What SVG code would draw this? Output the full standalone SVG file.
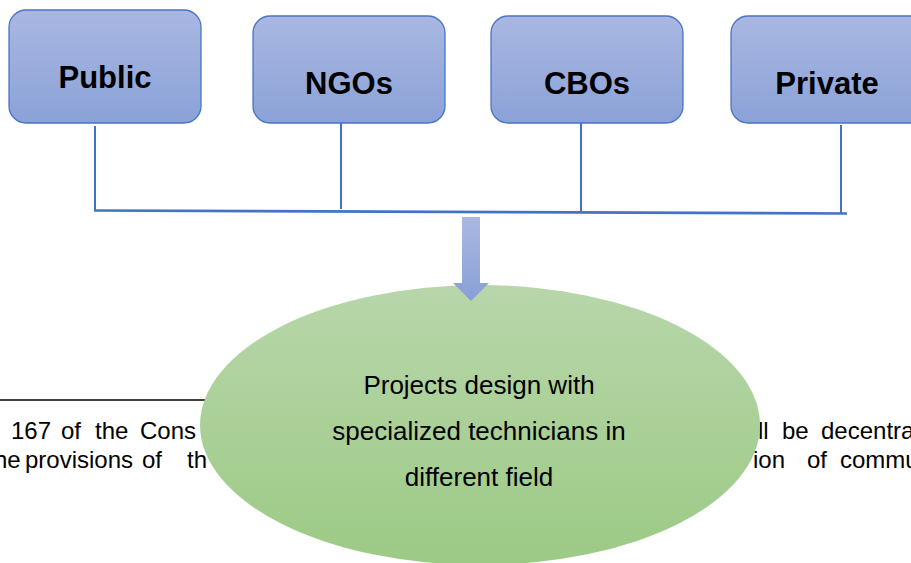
<svg xmlns="http://www.w3.org/2000/svg" width="911" height="563" viewBox="0 0 911 563">
<defs>
<linearGradient id="gBlue" x1="0" y1="0" x2="0" y2="1">
<stop offset="0" stop-color="#a9b7e1"/>
<stop offset="1" stop-color="#8ba2d8"/>
</linearGradient>
<linearGradient id="gArrow" x1="0" y1="0" x2="0" y2="1">
<stop offset="0" stop-color="#aab8e2"/>
<stop offset="1" stop-color="#889fd7"/>
</linearGradient>
<linearGradient id="gGreen" x1="0" y1="0" x2="0" y2="1">
<stop offset="0" stop-color="#b8d6aa"/>
<stop offset="1" stop-color="#9cca85"/>
</linearGradient>
</defs>
<style>
.box{fill:url(#gBlue);stroke:#4a74c4;stroke-width:1.3}
.lbl{font-family:"Liberation Sans",Arial,sans-serif;font-weight:bold;font-size:31px;fill:#000;text-anchor:middle}
.conn{stroke:#4472c4;stroke-width:2;fill:none}
.body{font-family:"Liberation Sans",Arial,sans-serif;font-size:24px;fill:#000}
.ell{font-family:"Liberation Sans",Arial,sans-serif;font-size:26px;fill:#000;text-anchor:middle}
</style>
<rect width="911" height="563" fill="#fff"/>
<g id="background-text">
<line x1="0" y1="400" x2="206" y2="400" stroke="#000" stroke-width="1.5"/>
<text class="body" y="439"><tspan x="11">167</tspan><tspan x="61">of</tspan><tspan x="95">the</tspan><tspan x="140">Cons</tspan></text>
<text class="body" y="468"><tspan x="-6">he</tspan><tspan x="25">provisions</tspan><tspan x="142">of</tspan><tspan x="187">th</tspan></text>
<text class="body" y="439"><tspan x="758">ll</tspan><tspan x="782">be</tspan><tspan x="821">decentra</tspan></text>
<text class="body" y="468"><tspan x="753">ion</tspan><tspan x="807">of</tspan><tspan x="840">commu</tspan></text>
</g>
<g id="node-public">
<rect class="box" x="9" y="10" width="192" height="113" rx="17"/>
<text class="lbl" x="105" y="88">Public</text>
</g>
<g id="node-ngos">
<rect class="box" x="253" y="16" width="192" height="107" rx="17"/>
<text class="lbl" x="349" y="94">NGOs</text>
</g>
<g id="node-cbos">
<rect class="box" x="491" y="16" width="192" height="107" rx="17"/>
<text class="lbl" x="587" y="94">CBOs</text>
</g>
<g id="node-private">
<rect class="box" x="731" y="16" width="200" height="107" rx="17"/>
<text class="lbl" x="827" y="94">Private</text>
</g>
<g id="node-projects">
<ellipse cx="480" cy="425" rx="280" ry="140" fill="url(#gGreen)"/>
<text class="ell" x="479" y="394">Projects design with</text>
<text class="ell" x="479" y="440">specialized technicians in</text>
<text class="ell" x="479" y="486">different field</text>
</g>
<g id="connectors">
<line class="conn" x1="95" y1="126" x2="95" y2="211"/>
<line class="conn" x1="341" y1="123" x2="341" y2="209"/>
<line class="conn" x1="581" y1="123" x2="581" y2="211"/>
<line class="conn" x1="841" y1="125" x2="841" y2="213"/>
<line x1="94" y1="210.5" x2="847" y2="213.5" stroke="#4472c4" stroke-width="2.6"/>
<polygon points="462,217 480,217 480,283 489,283 471,301 453,283 462,283" fill="url(#gArrow)"/>
</g>
</svg>
